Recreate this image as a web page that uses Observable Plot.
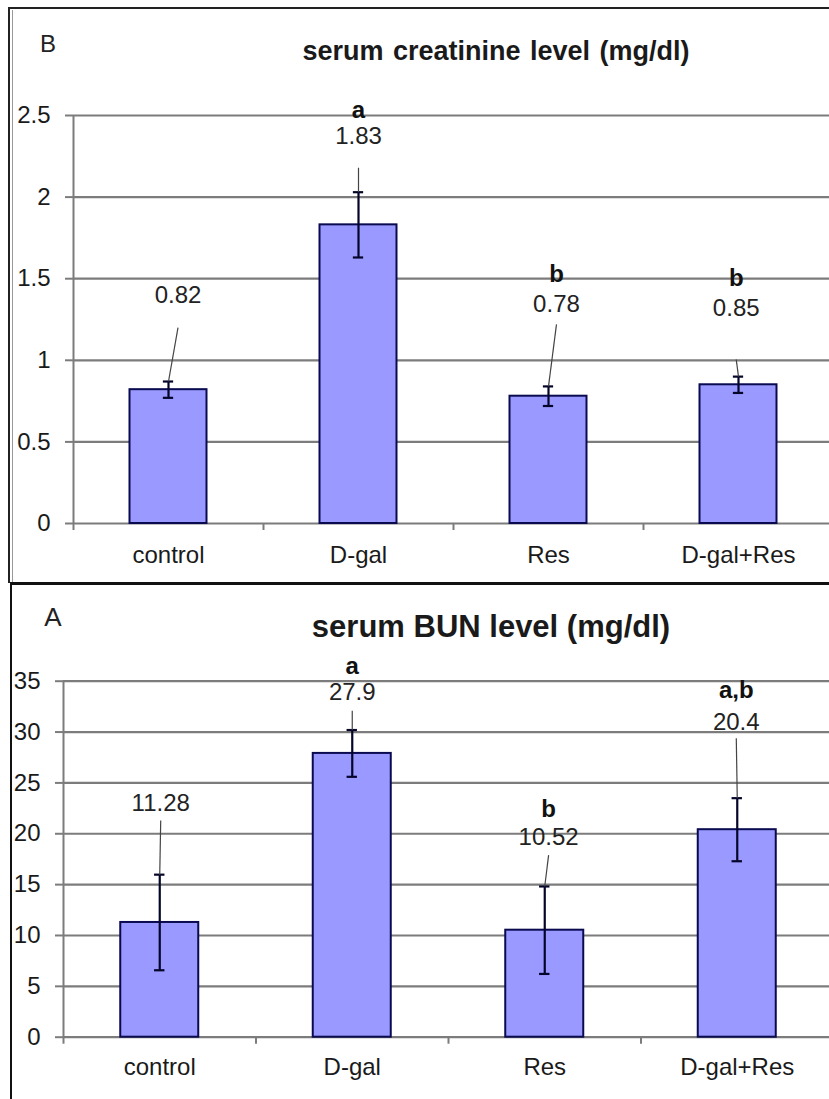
<!DOCTYPE html>
<html>
<head>
<meta charset="utf-8">
<script src="https://cdn.jsdelivr.net/npm/d3@7"></script>
<script src="https://cdn.jsdelivr.net/npm/@observablehq/plot@0.6"></script>
<style>
  html, body { margin: 0; padding: 0; background: #fff; }
  #page { position: relative; width: 829px; height: 1099px; overflow: hidden; background: #fff;
          font-family: "Liberation Sans", Arial, sans-serif; color: #111; }
  .abs { position: absolute; }
  .title { position: absolute; white-space: nowrap; font-weight: bold; line-height: 1; transform: translateX(-50%); color: #1a1a1a; }
  .letter { position: absolute; white-space: nowrap; line-height: 1; transform: translateX(-50%); color: #222; }
  svg { overflow: visible; }
</style>
</head>
<body>
<div id="page">
  <div id="top" class="abs" style="left:0;top:0;"></div>
  <div id="bottom" class="abs" style="left:0;top:585px;"></div>
  <div class="letter" style="left:48px;top:32px;font-size:24px;">B</div>
  <div class="title" style="left:496px;top:38px;font-size:27px;word-spacing:2px;">serum creatinine level (mg/dl)</div>
  <div class="letter" style="left:53px;top:604px;font-size:26px;">A</div>
  <div class="title" style="left:491px;top:611px;font-size:31px;">serum BUN level (mg/dl)</div>
  <!-- panel borders -->
  <div class="abs" style="left:8px;top:7px;width:821px;height:2px;background:#222;"></div>
  <div class="abs" style="left:8px;top:7px;width:2px;height:576px;background:#222;"></div>
  <div class="abs" style="left:12px;top:10px;width:1px;height:572px;background:#999;"></div>
  <div class="abs" style="left:10px;top:582px;width:819px;height:3px;background:#111;"></div>
  <div class="abs" style="left:10px;top:582px;width:2px;height:517px;background:#111;"></div>
</div>
<script>
// ---- data ----
const categories = ["control", "D-gal", "Res", "D-gal+Res"];

const creatMean = [0.82, 1.83, 0.78, 0.85];
const creatSE   = [0.05, 0.20, 0.06, 0.05];
const creatSig  = ["", "a", "b", "b"];
const creatTicks = [0, 0.5, 1, 1.5, 2, 2.5];

const bunMean = [11.28, 27.9, 10.52, 20.4];
const bunSE   = [4.7, 2.3, 4.3, 3.1];
const bunSig  = ["", "a", "b", "a,b"];
const bunTicks = [0, 5, 10, 15, 20, 25, 30, 35];

// ---- annotation layout (data units) ----
const creatLayout = {
  labelY: [1.40, 2.37, 1.34, 1.32],
  sigY: [null, 2.53, 1.525, 1.50],
  leaderY: [1.20, 2.18, 1.22, 1.005],
  labelDx: [0.05, 0, 0.042, -0.012]
};
const bunLayout = {
  labelY: [23.0, 33.9, 19.7, 31.0],
  sigY: [null, 36.5, 22.45, 34.1],
  leaderY: [21.3, 32.1, 17.9, 29.4],
  labelDx: [0.005, 0, 0.02, -0.005]
};

function chart({means, ses, sigs, ticks, layout, height, marginTop, marginBottom, marginLeft, catPad}) {
  const rows = categories.map((c, i) => ({
    i, cat: c, mean: means[i], se: ses[i], sig: sigs[i],
    labelY: layout.labelY[i], sigY: layout.sigY[i], leaderY: layout.leaderY[i], dx: layout.labelDx[i]
  }));
  const halfBar = 0.2026, halfCap = 0.027;
  const ymax = ticks[ticks.length - 1];
  const grid = "#7c7c7c";
  return Plot.plot({
    width: 829, height, marginTop, marginBottom, marginLeft, marginRight: 0,
    x: {domain: [-0.5, 3.5], range: [marginLeft, 833]},
    y: {domain: [0, ymax]},
    style: {fontFamily: "Liberation Sans, Arial, sans-serif", fontSize: "24px", color: "#1a1a1a", background: "transparent", overflow: "visible"},
    marks: [
      Plot.ruleY(ticks, {stroke: grid, strokeWidth: 2.2}),
      Plot.axisY(ticks, {tickSize: 8, tickPadding: 15, fontSize: 24, stroke: grid, strokeWidth: 2, tickFormat: d => String(d), label: null}),
      Plot.axisX([-0.5, 0.5, 1.5, 2.5], {tickSize: 7, stroke: grid, strokeWidth: 2, tickFormat: () => "", label: null}),
      Plot.axisX([0, 1, 2, 3], {tickSize: 0, tickPadding: catPad, fontSize: 24, tickFormat: i => categories[i], label: null}),
      Plot.ruleX([-0.5], {y1: 0, y2: ymax, stroke: grid, strokeWidth: 2}),
      Plot.rect(rows, {x1: d => d.i - halfBar, x2: d => d.i + halfBar, y1: 0, y2: "mean", fill: "#9999ff", stroke: "#0a0a50", strokeWidth: 2}),
      Plot.ruleX(rows, {x: "i", y1: d => d.mean - d.se, y2: d => d.mean + d.se, stroke: "#05052a", strokeWidth: 2.2}),
      Plot.ruleY(rows, {y: d => d.mean + d.se, x1: d => d.i - halfCap, x2: d => d.i + halfCap, stroke: "#05052a", strokeWidth: 2.2}),
      Plot.ruleY(rows, {y: d => d.mean - d.se, x1: d => d.i - halfCap, x2: d => d.i + halfCap, stroke: "#05052a", strokeWidth: 2.2}),
      Plot.link(rows, {x1: d => d.i + d.dx, y1: "leaderY", x2: "i", y2: d => d.mean + d.se, stroke: "#444", strokeWidth: 1.2}),
      Plot.text(rows, {x: d => d.i + d.dx, y: "labelY", text: d => String(d.mean), fontSize: 24, fill: "#222", lineAnchor: "middle"}),
      Plot.text(rows.filter(d => d.sig), {x: d => d.i + d.dx, y: "sigY", text: "sig", fontSize: 24, fontWeight: "bold", fill: "#111", lineAnchor: "middle"})
    ]
  });
}

document.getElementById("top").append(chart({
  means: creatMean, ses: creatSE, sigs: creatSig, ticks: creatTicks, layout: creatLayout,
  height: 582, marginTop: 115, marginBottom: 59, marginLeft: 73, catPad: 22
}));
document.getElementById("bottom").append(chart({
  means: bunMean, ses: bunSE, sigs: bunSig, ticks: bunTicks, layout: bunLayout,
  height: 514, marginTop: 95.7, marginBottom: 62.3, marginLeft: 63, catPad: 21
}));
</script>
</body>
</html>
